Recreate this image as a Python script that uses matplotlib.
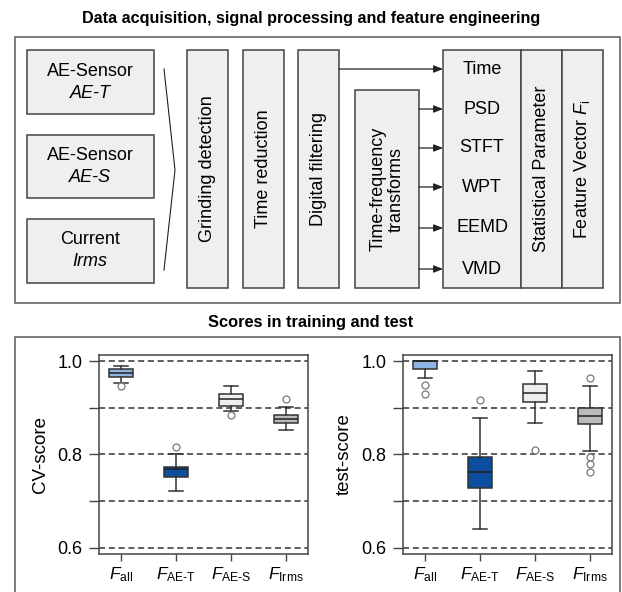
import numpy as np
import matplotlib
matplotlib.use('Agg')
import matplotlib.pyplot as plt
from matplotlib.patches import Rectangle

plt.rcParams['font.family'] = ['Liberation Sans', 'DejaVu Sans']
plt.rcParams['mathtext.fontset'] = 'custom'
plt.rcParams['mathtext.rm'] = 'Liberation Sans'
plt.rcParams['mathtext.it'] = 'Liberation Sans:italic'

# --- diagram texts
sensors = ['AE-Sensor', 'AE-Sensor', 'Current']
sensor_ids = ['AE-T', 'AE-S', 'Irms']
steps = ['Grinding detection', 'Time reduction', 'Digital filtering']
domains = ['Time', 'PSD', 'STFT', 'WPT', 'EEMD', 'VMD']

# --- box plot statistics
feat_labels = [r'$F_{\mathrm{all}}$', r'$F_{\text{AE-T}}$', r'$F_{\text{AE-S}}$', r'$F_{\mathrm{Irms}}$']
box_colors = ['#8db4e2', '#0b4f9e', '#eeeeee', '#bbbbbb']

cv_med = [0.975, 0.769, 0.919, 0.876]
cv_q1 = [0.965, 0.751, 0.904, 0.867]
cv_q3 = [0.983, 0.774, 0.929, 0.884]
cv_lo = [0.954, 0.722, 0.894, 0.852]
cv_hi = [0.990, 0.801, 0.947, 0.901]
cv_out = [[0.947], [0.817], [0.885], [0.918]]

test_med = [1.000, 0.762, 0.931, 0.883]
test_q1 = [0.982, 0.728, 0.913, 0.866]
test_q3 = [1.000, 0.795, 0.951, 0.900]
test_lo = [0.963, 0.641, 0.867, 0.808]
test_hi = [1.000, 0.879, 0.979, 0.947]
test_out = [[0.949, 0.929], [0.917], [0.810], [0.963, 0.795, 0.779, 0.762]]

W, H = 622, 592
fig = plt.figure(figsize=(W/100, H/100), dpi=100)

# overlay axis in pixel units for the flow diagram
ax0 = fig.add_axes([0, 0, 1, 1])
ax0.set_xlim(0, W)
ax0.set_ylim(H, 0)
ax0.axis('off')

EC = '#444444'
FC = '#efefef'
FS = 13

def box(x0, y0, x1, y1, fc=FC, ec=EC, lw=1.1):
    ax0.add_patch(Rectangle((x0, y0), x1-x0, y1-y0, fc=fc, ec=ec, lw=lw))

def arrow(x0, x1, y):
    ax0.annotate('', xy=(x1, y), xytext=(x0, y),
                 arrowprops=dict(arrowstyle='-|>,head_length=0.55,head_width=0.22',
                                 color='#222222', lw=0.9, shrinkA=0, shrinkB=0))

# top panel
ax0.text(W/2, 18, 'Data acquisition, signal processing and feature engineering',
         ha='center', va='center', fontsize=11.6, fontweight='bold')
box(15, 37, 620, 303, fc='white', ec='#666666', lw=1.2)

for i, (s, sid) in enumerate(zip(sensors, sensor_ids)):
    y0 = 50 + i*84.5
    box(27, y0, 154, y0+63.5)
    yc = y0 + 32
    ax0.text(90, yc-11, s, ha='center', va='center', fontsize=FS)
    ax0.text(90, yc+11, sid, ha='center', va='center', fontsize=FS, style='italic')

ax0.plot([164, 175, 164], [69, 170, 270], color='#222222', lw=0.8)

for i, s in enumerate(steps):
    x0 = 187 + i*55.5
    box(x0, 50, x0+41, 288)
    ax0.text(x0+20.5, 169, s, ha='center', va='center', fontsize=FS, rotation=90)

box(355, 90, 419, 288)
ax0.text(387, 189, 'Time-frequency\ntransforms', ha='center', va='center',
         fontsize=FS, rotation=90, linespacing=1.1)

box(443, 50, 521, 288)
box(521, 50, 562, 288)
box(562, 50, 603, 288)
dom_y = [69, 109, 148, 187, 228, 269]
for s, y in zip(domains, dom_y):
    ax0.text(482, y, s, ha='center', va='center', fontsize=FS)
arrow(339, 443, dom_y[0])
for y in dom_y[1:]:
    arrow(419, 443, y)
ax0.text(541.5, 169, 'Statistical Parameter', ha='center', va='center', fontsize=FS, rotation=90)
ax0.text(582.5, 169, r'Feature Vector $F_{\mathrm{i}}$', ha='center', va='center', fontsize=FS, rotation=90)

# bottom panel
ax0.text(W/2, 323, 'Scores in training and test', ha='center', va='center',
         fontsize=11.8, fontweight='bold')
box(15, 337, 620, 610, fc='white', ec='#666666', lw=1.2)


def make_stats(med, q1, q3, lo, hi, out):
    stats = []
    for i in range(len(med)):
        stats.append(dict(med=med[i], q1=q1[i], q3=q3[i], whislo=lo[i], whishi=hi[i],
                          fliers=np.array(out[i])))
    return stats


def score_plot(left, stats, ylabel):
    ax = fig.add_axes([left/W, (H-554)/H, 209/W, 199/H])
    ax.set_xlim(0.6, 4.4)
    ax.set_ylim(0.587, 1.013)
    yt = [0.6, 0.7, 0.8, 0.9, 1.0]
    for v in yt:
        ax.axhline(v, color='#333333', lw=1.1, ls=(0, (4, 2.4)), zorder=0.5)
    bp = ax.bxp(stats, positions=[1, 2, 3, 4], widths=0.43, capwidths=0.24,
                patch_artist=True, showfliers=True,
                boxprops=dict(ec='#333333', lw=1.1),
                medianprops=dict(color='#222222', lw=1.1),
                whiskerprops=dict(color='#333333', lw=1.1),
                capprops=dict(color='#333333', lw=1.1),
                flierprops=dict(marker='o', mfc='white', mec='#777777', ms=5, mew=0.9))
    for patch, c in zip(bp['boxes'], box_colors):
        patch.set_facecolor(c)
        patch.set_zorder(2)
    ax.set_yticks(yt)
    ax.set_yticklabels(['0.6', '', '0.8', '', '1.0'])
    ax.set_xticks([1, 2, 3, 4])
    ax.set_xticklabels(feat_labels)
    ax.tick_params(axis='y', length=7, width=1, color='#444444', labelsize=13, pad=5)
    ax.tick_params(axis='x', length=5, width=1, color='#444444', labelsize=12.5, pad=3)
    for sp in ax.spines.values():
        sp.set_color('#444444')
        sp.set_linewidth(1.1)
    ax.set_ylabel(ylabel, fontsize=13.5, labelpad=6)
    return ax


score_plot(99, make_stats(cv_med, cv_q1, cv_q3, cv_lo, cv_hi, cv_out), 'CV-score')
score_plot(403, make_stats(test_med, test_q1, test_q3, test_lo, test_hi, test_out), 'test-score')

fig.savefig('out.png', dpi=100)
